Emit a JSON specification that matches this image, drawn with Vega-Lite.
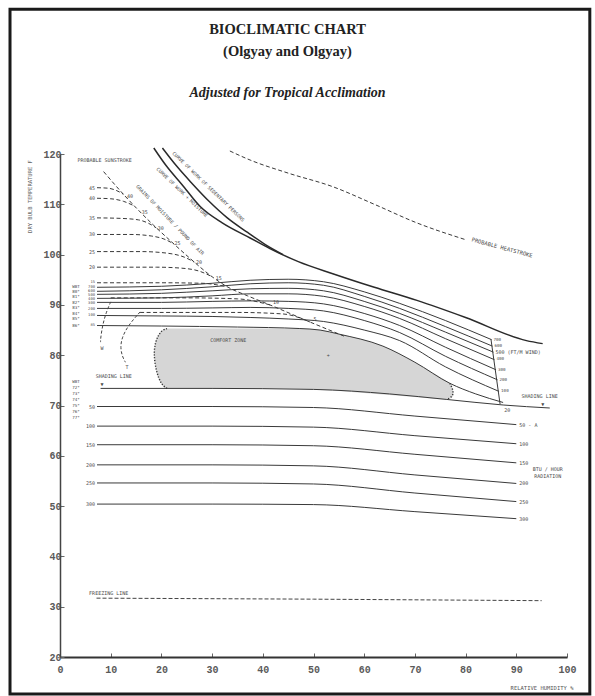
{
  "$schema": "https://vega.github.io/schema/vega-lite/v6.json",
  "width": 507,
  "height": 503,
  "autosize": "none",
  "padding": {"left": 60, "top": 154, "right": 28, "bottom": 39},
  "background": "white",
  "config": {"view": {"stroke": null}, "axis": {"grid": false}},
  "title": {
    "text": ["BIOCLIMATIC CHART", "(Olgyay and Olgyay)"],
    "subtitle": "Adjusted for Tropical Acclimation",
    "font": "Liberation Serif", "fontSize": 14.5, "fontWeight": "bold", "color": "#222",
    "lineHeight": 22,
    "subtitleFont": "Liberation Serif", "subtitleFontSize": 14, "subtitleFontStyle": "italic",
    "subtitleFontWeight": "bold", "subtitleColor": "#222", "subtitlePadding": 26,
    "anchor": "middle", "frame": "group", "offset": -97.5, "dx": -26
  },
  "datasets": {
    "lines": [
      {"id":"W700","k":"s","i":0,"x":7.3,"y":93.5},{"id":"W700","k":"s","i":1,"x":20,"y":93.7},{"id":"W700","k":"s","i":2,"x":30,"y":94.3},{"id":"W700","k":"s","i":3,"x":37.5,"y":94.9},{"id":"W700","k":"s","i":4,"x":45,"y":95.1},{"id":"W700","k":"s","i":5,"x":52,"y":94.6},{"id":"W700","k":"s","i":6,"x":60,"y":92.6},{"id":"W700","k":"s","i":7,"x":67,"y":90.3},{"id":"W700","k":"s","i":8,"x":76,"y":86.9},{"id":"W700","k":"s","i":9,"x":85.1,"y":83.1},
      {"id":"W600","k":"s","i":0,"x":7.3,"y":92.7},{"id":"W600","k":"s","i":1,"x":20,"y":93.0},{"id":"W600","k":"s","i":2,"x":30,"y":93.6},{"id":"W600","k":"s","i":3,"x":37.5,"y":94.2},{"id":"W600","k":"s","i":4,"x":45,"y":94.4},{"id":"W600","k":"s","i":5,"x":52,"y":93.9},{"id":"W600","k":"s","i":6,"x":60,"y":91.7},{"id":"W600","k":"s","i":7,"x":67,"y":89.3},{"id":"W600","k":"s","i":8,"x":76,"y":85.7},{"id":"W600","k":"s","i":9,"x":85.3,"y":81.8},
      {"id":"W500","k":"s","i":0,"x":7.3,"y":92.1},{"id":"W500","k":"s","i":1,"x":20,"y":92.3},{"id":"W500","k":"s","i":2,"x":30,"y":92.8},{"id":"W500","k":"s","i":3,"x":37.5,"y":93.2},{"id":"W500","k":"s","i":4,"x":45,"y":93.3},{"id":"W500","k":"s","i":5,"x":52,"y":92.8},{"id":"W500","k":"s","i":6,"x":60,"y":90.7},{"id":"W500","k":"s","i":7,"x":67,"y":88.3},{"id":"W500","k":"s","i":8,"x":76,"y":84.6},{"id":"W500","k":"s","i":9,"x":85.5,"y":80.6},
      {"id":"W400","k":"s","i":0,"x":7.3,"y":91.3},{"id":"W400","k":"s","i":1,"x":20,"y":91.4},{"id":"W400","k":"s","i":2,"x":30,"y":91.8},{"id":"W400","k":"s","i":3,"x":37.5,"y":92.2},{"id":"W400","k":"s","i":4,"x":45,"y":92.2},{"id":"W400","k":"s","i":5,"x":52,"y":91.7},{"id":"W400","k":"s","i":6,"x":60,"y":89.7},{"id":"W400","k":"s","i":7,"x":67,"y":87.3},{"id":"W400","k":"s","i":8,"x":76,"y":83.3},{"id":"W400","k":"s","i":9,"x":85.7,"y":79.1},
      {"id":"W300","k":"s","i":0,"x":7.3,"y":90.5},{"id":"W300","k":"s","i":1,"x":20,"y":90.5},{"id":"W300","k":"s","i":2,"x":30,"y":90.7},{"id":"W300","k":"s","i":3,"x":37.5,"y":90.8},{"id":"W300","k":"s","i":4,"x":45,"y":90.7},{"id":"W300","k":"s","i":5,"x":52,"y":90.2},{"id":"W300","k":"s","i":6,"x":60,"y":88.3},{"id":"W300","k":"s","i":7,"x":67,"y":85.9},{"id":"W300","k":"s","i":8,"x":76,"y":81.6},{"id":"W300","k":"s","i":9,"x":86.0,"y":77.1},
      {"id":"W200","k":"s","i":0,"x":7.3,"y":89.3},{"id":"W200","k":"s","i":1,"x":20,"y":89.3},{"id":"W200","k":"s","i":2,"x":30,"y":89.4},{"id":"W200","k":"s","i":3,"x":37.5,"y":89.5},{"id":"W200","k":"s","i":4,"x":45,"y":89.3},{"id":"W200","k":"s","i":5,"x":52,"y":88.8},{"id":"W200","k":"s","i":6,"x":60,"y":86.9},{"id":"W200","k":"s","i":7,"x":67,"y":84.5},{"id":"W200","k":"s","i":8,"x":76,"y":79.8},{"id":"W200","k":"s","i":9,"x":86.3,"y":75.1},
      {"id":"W100","k":"s","i":0,"x":7.3,"y":87.9},{"id":"W100","k":"s","i":1,"x":20,"y":87.8},{"id":"W100","k":"s","i":2,"x":30,"y":87.7},{"id":"W100","k":"s","i":3,"x":37.5,"y":87.5},{"id":"W100","k":"s","i":4,"x":45,"y":87.2},{"id":"W100","k":"s","i":5,"x":52,"y":86.7},{"id":"W100","k":"s","i":6,"x":60,"y":85.0},{"id":"W100","k":"s","i":7,"x":67,"y":82.9},{"id":"W100","k":"s","i":8,"x":76,"y":77.7},{"id":"W100","k":"s","i":9,"x":86.6,"y":72.8},
      {"id":"C85","k":"s","i":0,"x":7.3,"y":85.9},{"id":"C85","k":"s","i":1,"x":20,"y":85.8},{"id":"C85","k":"s","i":2,"x":35,"y":85.6},{"id":"C85","k":"s","i":3,"x":47.3,"y":85.3},{"id":"C85","k":"s","i":4,"x":51.3,"y":85.0},{"id":"C85","k":"s","i":5,"x":55,"y":84.2},{"id":"C85","k":"s","i":6,"x":63.7,"y":81.8},{"id":"C85","k":"s","i":7,"x":70,"y":78.6},{"id":"C85","k":"s","i":8,"x":76.9,"y":74.4},{"id":"C85","k":"s","i":9,"x":82,"y":72.3},{"id":"C85","k":"s","i":10,"x":87.4,"y":70.6},
      {"id":"SH","k":"s","i":0,"x":8,"y":73.4},{"id":"SH","k":"s","i":1,"x":30,"y":73.4},{"id":"SH","k":"s","i":2,"x":50,"y":73.2},{"id":"SH","k":"s","i":3,"x":65,"y":72.3},{"id":"SH","k":"s","i":4,"x":76.3,"y":71.2},{"id":"SH","k":"s","i":5,"x":87.4,"y":70.1},{"id":"SH","k":"s","i":6,"x":96.6,"y":69.5},
      {"id":"R50","k":"s","i":0,"x":7.3,"y":69.8},{"id":"R50","k":"s","i":1,"x":30,"y":69.8},{"id":"R50","k":"s","i":2,"x":50,"y":69.6},{"id":"R50","k":"s","i":3,"x":70,"y":67.9},{"id":"R50","k":"s","i":4,"x":90,"y":66.2},
      {"id":"R100","k":"s","i":0,"x":7.3,"y":65.9},{"id":"R100","k":"s","i":1,"x":30,"y":65.9},{"id":"R100","k":"s","i":2,"x":50,"y":65.7},{"id":"R100","k":"s","i":3,"x":70,"y":64.0},{"id":"R100","k":"s","i":4,"x":90,"y":62.4},
      {"id":"R150","k":"s","i":0,"x":7.3,"y":62.2},{"id":"R150","k":"s","i":1,"x":30,"y":62.2},{"id":"R150","k":"s","i":2,"x":50,"y":62.0},{"id":"R150","k":"s","i":3,"x":70,"y":60.3},{"id":"R150","k":"s","i":4,"x":90,"y":58.6},
      {"id":"R200","k":"s","i":0,"x":7.3,"y":58.2},{"id":"R200","k":"s","i":1,"x":30,"y":58.2},{"id":"R200","k":"s","i":2,"x":50,"y":58.0},{"id":"R200","k":"s","i":3,"x":70,"y":56.2},{"id":"R200","k":"s","i":4,"x":90,"y":54.5},
      {"id":"R250","k":"s","i":0,"x":7.3,"y":54.6},{"id":"R250","k":"s","i":1,"x":30,"y":54.6},{"id":"R250","k":"s","i":2,"x":50,"y":54.4},{"id":"R250","k":"s","i":3,"x":70,"y":52.6},{"id":"R250","k":"s","i":4,"x":90,"y":50.9},
      {"id":"R300","k":"s","i":0,"x":7.3,"y":50.4},{"id":"R300","k":"s","i":1,"x":30,"y":50.4},{"id":"R300","k":"s","i":2,"x":50,"y":50.3},{"id":"R300","k":"s","i":3,"x":70,"y":48.9},{"id":"R300","k":"s","i":4,"x":90,"y":47.5},
      {"id":"VC","k":"v","i":0,"x":85.0,"y":83.2},{"id":"VC","k":"v","i":1,"x":86.8,"y":70.3},
      {"id":"A","k":"b","i":0,"x":18.5,"y":121.2},{"id":"A","k":"b","i":1,"x":21,"y":117.6},{"id":"A","k":"b","i":2,"x":24,"y":114.0},{"id":"A","k":"b","i":3,"x":27.7,"y":109.5},{"id":"A","k":"b","i":4,"x":32,"y":106.3},{"id":"A","k":"b","i":5,"x":37.5,"y":103.3},{"id":"A","k":"b","i":6,"x":41.4,"y":101.2},{"id":"A","k":"b","i":7,"x":47,"y":98.6},{"id":"A","k":"b","i":8,"x":53.8,"y":96.2},{"id":"A","k":"b","i":9,"x":62,"y":93.5},{"id":"A","k":"b","i":10,"x":70.4,"y":90.9},{"id":"A","k":"b","i":11,"x":80,"y":87.5},{"id":"A","k":"b","i":12,"x":92,"y":82.9},{"id":"A","k":"b","i":13,"x":95.2,"y":82.3},
      {"id":"B","k":"b","i":0,"x":20.2,"y":121.2},{"id":"B","k":"b","i":1,"x":23,"y":117.6},{"id":"B","k":"b","i":2,"x":26,"y":114.2},{"id":"B","k":"b","i":3,"x":29.6,"y":110.4},{"id":"B","k":"b","i":4,"x":33,"y":107.3},{"id":"B","k":"b","i":5,"x":37,"y":104.4},{"id":"B","k":"b","i":6,"x":40.5,"y":102.0},{"id":"B","k":"b","i":7,"x":44,"y":100.0},
      {"id":"TR","k":"d","i":0,"x":33.5,"y":120.6},{"id":"TR","k":"d","i":1,"x":37.5,"y":118.8},{"id":"TR","k":"d","i":2,"x":45,"y":116.2},{"id":"TR","k":"d","i":3,"x":53.8,"y":113.5},{"id":"TR","k":"d","i":4,"x":62,"y":110.0},{"id":"TR","k":"d","i":5,"x":70.4,"y":106.3},{"id":"TR","k":"d","i":6,"x":80.2,"y":102.9},
      {"id":"D","k":"d","i":0,"x":8.6,"y":116.5},{"id":"D","k":"d","i":1,"x":12.5,"y":112.0},{"id":"D","k":"d","i":2,"x":15.5,"y":108.8},{"id":"D","k":"d","i":3,"x":18.5,"y":105.8},{"id":"D","k":"d","i":4,"x":21.5,"y":103.0},{"id":"D","k":"d","i":5,"x":25.7,"y":99.2},{"id":"D","k":"d","i":6,"x":30,"y":95.6},{"id":"D","k":"d","i":7,"x":33,"y":93.6},{"id":"D","k":"d","i":8,"x":37,"y":91.8},{"id":"D","k":"d","i":9,"x":41.4,"y":90.0},{"id":"D","k":"d","i":10,"x":49.3,"y":86.6},{"id":"D","k":"d","i":11,"x":56,"y":83.8},
      {"id":"L1","k":"d","i":0,"x":7.3,"y":113.3},{"id":"L1","k":"d","i":1,"x":9.5,"y":113.2},{"id":"L1","k":"d","i":2,"x":11,"y":112.8},{"id":"L1","k":"d","i":3,"x":12.5,"y":112.0},
      {"id":"L2","k":"d","i":0,"x":7.3,"y":111.2},{"id":"L2","k":"d","i":1,"x":10,"y":111.1},{"id":"L2","k":"d","i":2,"x":12.5,"y":110.6},{"id":"L2","k":"d","i":3,"x":14.6,"y":109.7},
      {"id":"L3","k":"d","i":0,"x":7.3,"y":107.3},{"id":"L3","k":"d","i":1,"x":12,"y":107.2},{"id":"L3","k":"d","i":2,"x":15.5,"y":106.9},{"id":"L3","k":"d","i":3,"x":17.5,"y":106.2},{"id":"L3","k":"d","i":4,"x":19,"y":105.3},
      {"id":"L4","k":"d","i":0,"x":7.3,"y":104.0},{"id":"L4","k":"d","i":1,"x":14,"y":104.0},{"id":"L4","k":"d","i":2,"x":18,"y":103.7},{"id":"L4","k":"d","i":3,"x":20.5,"y":103.1},{"id":"L4","k":"d","i":4,"x":22.5,"y":102.1},
      {"id":"L5","k":"d","i":0,"x":7.3,"y":100.6},{"id":"L5","k":"d","i":1,"x":16,"y":100.6},{"id":"L5","k":"d","i":2,"x":21,"y":100.3},{"id":"L5","k":"d","i":3,"x":24.5,"y":99.5},{"id":"L5","k":"d","i":4,"x":26.5,"y":98.5},
      {"id":"L6","k":"d","i":0,"x":7.3,"y":97.5},{"id":"L6","k":"d","i":1,"x":19,"y":97.5},{"id":"L6","k":"d","i":2,"x":24,"y":97.3},{"id":"L6","k":"d","i":3,"x":27.5,"y":96.7},{"id":"L6","k":"d","i":4,"x":30,"y":95.6},
      {"id":"L7","k":"d","i":0,"x":7.3,"y":94.4},{"id":"L7","k":"d","i":1,"x":20,"y":94.4},{"id":"L7","k":"d","i":2,"x":28,"y":94.3},{"id":"L7","k":"d","i":3,"x":33,"y":93.6},
      {"id":"L8","k":"d","i":0,"x":10,"y":91.4},{"id":"L8","k":"d","i":1,"x":25,"y":91.4},{"id":"L8","k":"d","i":2,"x":35,"y":91.2},{"id":"L8","k":"d","i":3,"x":41.4,"y":90.0},
      {"id":"L9","k":"d","i":0,"x":15.8,"y":88.5},{"id":"L9","k":"d","i":1,"x":35,"y":88.5},{"id":"L9","k":"d","i":2,"x":44,"y":88.2},{"id":"L9","k":"d","i":3,"x":49.3,"y":86.6},
      {"id":"FR","k":"f","i":0,"x":7.2,"y":31.7},{"id":"FR","k":"f","i":1,"x":50,"y":31.5},{"id":"FR","k":"f","i":2,"x":95,"y":31.2},
      {"id":"AW","k":"a","i":0,"x":10.0,"y":90.6},{"id":"AW","k":"a","i":1,"x":9.1,"y":88.5},{"id":"AW","k":"a","i":2,"x":8.4,"y":86.0},{"id":"AW","k":"a","i":3,"x":8.0,"y":83.3},{"id":"AW","k":"a","i":4,"x":8.0,"y":82.6},
      {"id":"AT","k":"a","i":0,"x":15.8,"y":88.6},{"id":"AT","k":"a","i":1,"x":13.5,"y":86.0},{"id":"AT","k":"a","i":2,"x":12.2,"y":83.5},{"id":"AT","k":"a","i":3,"x":11.9,"y":81.5},{"id":"AT","k":"a","i":4,"x":12.3,"y":79.7},{"id":"AT","k":"a","i":5,"x":12.9,"y":78.6},
      {"id":"CL","k":"o","i":0,"x":21.1,"y":85.3},{"id":"CL","k":"o","i":1,"x":20.2,"y":85.0},{"id":"CL","k":"o","i":2,"x":19.4,"y":84.0},{"id":"CL","k":"o","i":3,"x":18.8,"y":82.5},{"id":"CL","k":"o","i":4,"x":18.5,"y":80.4},{"id":"CL","k":"o","i":5,"x":18.8,"y":77.8},{"id":"CL","k":"o","i":6,"x":19.4,"y":75.5},{"id":"CL","k":"o","i":7,"x":20.2,"y":74.0},{"id":"CL","k":"o","i":8,"x":21.1,"y":73.4},
      {"id":"CR","k":"o","i":0,"x":76.9,"y":74.4},{"id":"CR","k":"o","i":1,"x":77.4,"y":73.4},{"id":"CR","k":"o","i":2,"x":77.6,"y":72.5},{"id":"CR","k":"o","i":3,"x":77.3,"y":71.7},{"id":"CR","k":"o","i":4,"x":76.3,"y":71.2}
    ],
    "pageframe": [
      {"i":0,"x":-9.86,"y":148.8},{"i":1,"x":104.5,"y":148.8},{"i":2,"x":104.5,"y":12.64},{"i":3,"x":-9.86,"y":12.64},{"i":4,"x":-9.86,"y":148.8}
    ],
    "comfort": [
      {"x":18.5,"top":80.4,"bot":80.4},{"x":18.8,"top":82.5,"bot":77.8},{"x":19.4,"top":84.0,"bot":75.5},{"x":20.2,"top":85.0,"bot":74.0},{"x":21.1,"top":85.3,"bot":73.4},{"x":30,"top":85.3,"bot":73.4},{"x":47.3,"top":85.3,"bot":73.3},{"x":51.3,"top":85.0,"bot":73.1},{"x":55,"top":84.2,"bot":72.9},{"x":63.7,"top":81.8,"bot":72.2},{"x":70,"top":78.6,"bot":71.7},{"x":76.3,"top":74.8,"bot":71.2},{"x":76.9,"top":74.4,"bot":71.4},{"x":77.4,"top":73.4,"bot":71.7},{"x":77.6,"top":72.5,"bot":72.3}
    ],
    "textR": [
      {"t":"45","x":6.9,"y":113.3},{"t":"40","x":6.9,"y":111.2},{"t":"35","x":6.9,"y":107.3},{"t":"30","x":6.9,"y":104.0},{"t":"25","x":6.9,"y":100.6},{"t":"20","x":6.9,"y":97.5},
      {"t":"50","x":6.9,"y":69.8},{"t":"100","x":6.9,"y":65.9},{"t":"150","x":6.9,"y":62.2},{"t":"200","x":6.9,"y":58.2},{"t":"250","x":6.9,"y":54.6},{"t":"300","x":6.9,"y":50.4}
    ],
    "textRs": [
      {"t":"15","x":6.9,"y":94.6},
      {"t":"700","x":6.9,"y":93.5},{"t":"600","x":6.9,"y":92.7},{"t":"500","x":6.9,"y":91.9},{"t":"400","x":6.9,"y":91.1},{"t":"300","x":6.9,"y":90.3},{"t":"200","x":6.9,"y":89.2},{"t":"100","x":6.9,"y":87.9},{"t":"85","x":6.9,"y":86.0}
    ],
    "textL": [
      {"t":"40","x":13.2,"y":111.6},{"t":"35","x":16.1,"y":108.4},{"t":"30","x":19.3,"y":105.2},{"t":"25","x":22.6,"y":102.3},{"t":"20","x":26.8,"y":98.6},{"t":"15","x":30.7,"y":95.3},{"t":"10","x":42.0,"y":90.6},{"t":"5","x":50.0,"y":87.2},
      {"t":"500   (FT/M WIND)","x":85.9,"y":80.6},
      {"t":"50  -  A","x":90.6,"y":66.2},{"t":"100","x":90.6,"y":62.4},{"t":"150","x":90.6,"y":58.6},{"t":"200","x":90.6,"y":54.5},{"t":"250","x":90.6,"y":50.9},{"t":"300","x":90.6,"y":47.5},
      {"t":"20","x":87.6,"y":69.1}
    ],
    "textLs": [
      {"t":"700","x":85.5,"y":83.1},{"t":"600","x":85.7,"y":81.85},{"t":"400","x":86.1,"y":79.2},{"t":"300","x":86.4,"y":77.1},{"t":"200","x":86.7,"y":75.1},{"t":"100","x":87.0,"y":72.8},
      {"t":"WBT","x":2.4,"y":93.5},{"t":"80°","x":2.4,"y":92.5},{"t":"81°","x":2.4,"y":91.5},{"t":"82°","x":2.4,"y":90.4},{"t":"83°","x":2.4,"y":89.3},{"t":"84°","x":2.4,"y":88.2},{"t":"85°","x":2.4,"y":87.1},{"t":"86°","x":2.4,"y":85.9},
      {"t":"WBT","x":2.4,"y":74.7},{"t":"72°","x":2.4,"y":73.5},{"t":"73°","x":2.4,"y":72.3},{"t":"74°","x":2.4,"y":71.1},{"t":"75°","x":2.4,"y":69.9},{"t":"76°","x":2.4,"y":68.8},{"t":"77°","x":2.4,"y":67.6}
    ],
    "textC": [
      {"t":"PROBABLE SUNSTROKE","x":8.8,"y":118.9},
      {"t":"COMFORT ZONE","x":33.2,"y":83.0},
      {"t":"SHADING LINE","x":10.6,"y":75.8},
      {"t":"▼","x":8.3,"y":74.2},
      {"t":"SHADING LINE","x":94.6,"y":71.8},
      {"t":"▼","x":95.2,"y":70.3},
      {"t":"BTU / HOUR","x":96.2,"y":57.4},
      {"t":"RADIATION","x":96.2,"y":56.0},
      {"t":"FREEZING LINE","x":9.6,"y":32.7},
      {"t":"W","x":8.3,"y":81.5},
      {"t":"T","x":13.2,"y":77.6},
      {"t":"+","x":52.9,"y":80.0}
    ],
    "textRot": [
      {"t":"CURVE OF WORK OF SEDENTARY PERSONS","x":29.2,"y":113.4},
      {"t":"CURVE OF WORK + MOISTURE","x":24.0,"y":112.3},
      {"t":"GRAINS OF MOISTURE / POUND OF AIR","x":21.6,"y":106.8},
      {"t":"PROBABLE HEATSTROKE","x":87.2,"y":101.4}
    ]
  },
  "encoding": {
    "x": {"field": "x", "type": "quantitative",
      "scale": {"domain": [0, 100], "nice": false, "zero": false},
      "axis": {
        "values": [0,10,20,30,40,50,60,70,80,90,100],
        "labelFont": "Liberation Mono", "labelFontSize": 10, "labelFontWeight": "bold", "labelColor": "#5a5a5a",
        "labelFlush": false, "labelPadding": 11,
        "tickSize": -4, "tickColor": "#666", "tickWidth": 1,
        "domainColor": "#333", "domainWidth": 2,
        "title": "RELATIVE HUMIDITY %", "titleFont": "DejaVu Sans Mono", "titleFontSize": 5.5,
        "titleFontWeight": "normal", "titleColor": "#555", "titleAlign": "right",
        "titleX": 513, "titleY": 30.5, "titleBaseline": "middle"
      }
    },
    "y": {"field": "y", "type": "quantitative",
      "scale": {"domain": [20, 120], "nice": false, "zero": false},
      "axis": {
        "values": [20,30,40,50,60,70,80,90,100,110,120],
        "labelFont": "Liberation Mono", "labelFontSize": 10, "labelFontWeight": "bold", "labelColor": "#5a5a5a",
        "labelPadding": 3,
        "tickSize": -4, "tickColor": "#666",
        "domainColor": "#444", "domainWidth": 1.5,
        "title": "DRY BULB TEMPERATURE F", "titleFont": "DejaVu Sans Mono", "titleFontSize": 5.5,
        "titleFontWeight": "normal", "titleColor": "#666", "titleAngle": 270,
        "titleX": -31, "titleY": 42, "titleAlign": "center", "titleBaseline": "middle"
      }
    }
  },
  "layer": [
    {
      "data": {"name": "pageframe"},
      "mark": {"type": "line", "color": "#1a1a1a", "strokeWidth": 3, "strokeJoin": "miter", "strokeCap": "square"},
      "encoding": {"order": {"field": "i", "type": "quantitative"}}
    },
    {
      "data": {"name": "comfort"},
      "mark": {"type": "area", "color": "#d6d6d6", "interpolate": "monotone"},
      "encoding": {
        "y": {"field": "top", "type": "quantitative"},
        "y2": {"field": "bot"}
      }
    },
    {
      "data": {"name": "lines"},
      "transform": [{"filter": "datum.k === 's' || datum.k === 'v'"}],
      "mark": {"type": "line", "color": "#3a3a3a", "strokeWidth": 1, "interpolate": "monotone"},
      "encoding": {"detail": {"field": "id"}, "order": {"field": "i", "type": "quantitative"}}
    },
    {
      "data": {"name": "lines"},
      "transform": [{"filter": "datum.k === 'b'"}],
      "mark": {"type": "line", "color": "#2a2a2a", "strokeWidth": 1.5, "interpolate": "monotone"},
      "encoding": {"detail": {"field": "id"}, "order": {"field": "i", "type": "quantitative"}}
    },
    {
      "data": {"name": "lines"},
      "transform": [{"filter": "datum.k === 'd'"}],
      "mark": {"type": "line", "color": "#3a3a3a", "strokeWidth": 1, "strokeDash": [4, 2.5], "interpolate": "monotone"},
      "encoding": {"detail": {"field": "id"}, "order": {"field": "i", "type": "quantitative"}}
    },
    {
      "data": {"name": "lines"},
      "transform": [{"filter": "datum.k === 'f'"}],
      "mark": {"type": "line", "color": "#444", "strokeWidth": 1, "strokeDash": [4, 2]},
      "encoding": {"detail": {"field": "id"}, "order": {"field": "i", "type": "quantitative"}}
    },
    {
      "data": {"name": "lines"},
      "transform": [{"filter": "datum.k === 'a'"}],
      "mark": {"type": "line", "color": "#444", "strokeWidth": 1, "strokeDash": [3, 2], "interpolate": "basis"},
      "encoding": {"detail": {"field": "id"}, "order": {"field": "i", "type": "quantitative"}}
    },
    {
      "data": {"name": "lines"},
      "transform": [{"filter": "datum.k === 'o'"}],
      "mark": {"type": "line", "color": "#333", "strokeWidth": 1.4, "strokeDash": [1.2, 1.6], "interpolate": "basis"},
      "encoding": {"detail": {"field": "id"}, "order": {"field": "i", "type": "quantitative"}}
    },
    {
      "data": {"name": "textR"},
      "mark": {"type": "text", "align": "right", "baseline": "middle", "font": "DejaVu Sans Mono", "fontSize": 5, "color": "#4a4a4a"},
      "encoding": {"text": {"field": "t"}}
    },
    {
      "data": {"name": "textRs"},
      "mark": {"type": "text", "align": "right", "baseline": "middle", "font": "DejaVu Sans Mono", "fontSize": 3.8, "color": "#4a4a4a"},
      "encoding": {"text": {"field": "t"}}
    },
    {
      "data": {"name": "textL"},
      "mark": {"type": "text", "align": "left", "baseline": "middle", "font": "DejaVu Sans Mono", "fontSize": 5, "color": "#4a4a4a"},
      "encoding": {"text": {"field": "t"}}
    },
    {
      "data": {"name": "textLs"},
      "mark": {"type": "text", "align": "left", "baseline": "middle", "font": "DejaVu Sans Mono", "fontSize": 4.2, "color": "#4a4a4a"},
      "encoding": {"text": {"field": "t"}}
    },
    {
      "data": {"name": "textC"},
      "mark": {"type": "text", "align": "center", "baseline": "middle", "font": "DejaVu Sans Mono", "fontSize": 5, "color": "#4a4a4a"},
      "encoding": {"text": {"field": "t"}}
    },
    {
      "data": {"name": "textRot"},
      "transform": [{"filter": "datum.t === 'CURVE OF WORK OF SEDENTARY PERSONS' || datum.t === 'CURVE OF WORK + MOISTURE'"}],
      "mark": {"type": "text", "align": "center", "baseline": "middle", "font": "DejaVu Sans Mono", "fontSize": 4.8, "color": "#4a4a4a", "angle": 44},
      "encoding": {"text": {"field": "t"}}
    },
    {
      "data": {"name": "textRot"},
      "transform": [{"filter": "datum.t === 'GRAINS OF MOISTURE / POUND OF AIR'"}],
      "mark": {"type": "text", "align": "center", "baseline": "middle", "font": "DejaVu Sans Mono", "fontSize": 4.8, "color": "#4a4a4a", "angle": 46},
      "encoding": {"text": {"field": "t"}}
    },
    {
      "data": {"name": "textRot"},
      "transform": [{"filter": "datum.t === 'PROBABLE HEATSTROKE'"}],
      "mark": {"type": "text", "align": "center", "baseline": "middle", "font": "DejaVu Sans Mono", "fontSize": 5.5, "color": "#4a4a4a", "angle": 15},
      "encoding": {"text": {"field": "t"}}
    }
  ]
}
